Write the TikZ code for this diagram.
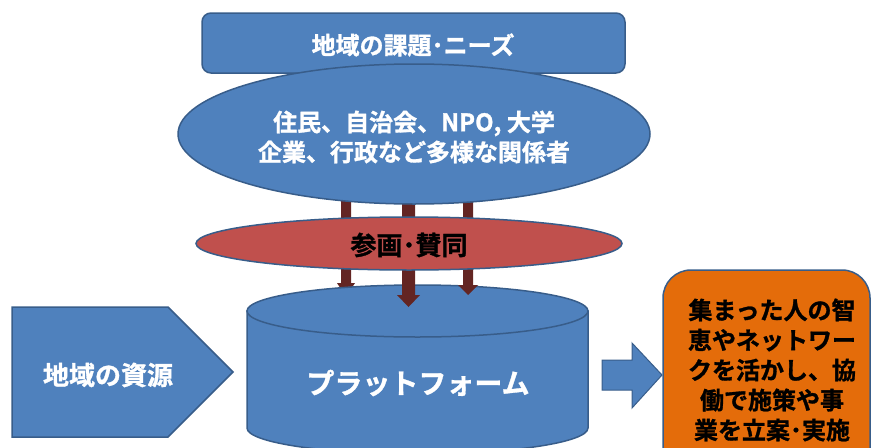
\documentclass[tikz,border=0pt]{standalone}
\usepackage{fontspec}
\setmainfont{Noto Sans CJK JP}[BoldFont={Noto Sans CJK JP Bold},BoldFeatures={FakeBold=1.2}]
\usetikzlibrary{shapes.geometric}
\definecolor{bfill}{HTML}{4F81BD}
\definecolor{bline}{HTML}{385D8A}
\definecolor{rfill}{HTML}{C0504D}
\definecolor{darr}{HTML}{632523}
\definecolor{ofill}{HTML}{E46C0A}
\newcommand\mydownarrow[6]{%
  \fill[darr] (#1-#2,#4) -- (#1+#2,#4) -- (#1+#2,#5) -- (#1+#3,#5) -- (#1,#6)
    -- (#1-#3,#5) -- (#1-#2,#5) -- cycle;}
\begin{document}
\begin{tikzpicture}[x=1pt,y=-1pt,
  blueshape/.style={fill=bfill,draw=bline,line width=1.5pt},
  txt/.style={font=\bfseries\fontsize{#1}{30}\selectfont,align=center,inner sep=0pt},
  wtxt/.style={txt=#1,text=white},
  btxt/.style={txt=#1,text=black}]
\useasboundingbox (0,0) rectangle (872,447);
\clip (0,0) rectangle (872,447);
% top rounded box
\node[blueshape,rounded corners=9pt,minimum width=423pt,minimum height=60pt,inner sep=0pt] (needsbox) at (413.5,43) {};
\node[wtxt=24] (needs) at (413,45) {地域の課題･ニーズ};
% left arrow (behind cylinder)
\mydownarrow{346}{5}{9}{195}{283}{297}
% cylinder
\path[blueshape] (247,311) -- (247,428) arc[start angle=180,end angle=360,x radius=170.5pt,y radius=26pt] -- (588,311) -- cycle;
\path[blueshape] (417.5,311) ellipse[x radius=170.5pt,y radius=26pt];
\coordinate (cyltop) at (417.5,311);
% middle and right arrows
\mydownarrow{408.5}{6.5}{11.5}{195}{295}{307}
\mydownarrow{468}{5}{10}{195}{285}{295}
% big ellipse
\node[blueshape,ellipse,minimum width=472pt,minimum height=140pt,inner sep=0pt] (actorsel) at (414,134) {};
\node[wtxt=24] (actors) at (414,137) {住民、自治会、NPO, 大学\\企業、行政など多様な関係者};
% red ellipse
\node[fill=rfill,draw=bline,line width=1.5pt,ellipse,minimum width=426pt,minimum height=53pt,inner sep=0pt] (joinel) at (409,243.5) {};
\node[btxt=26] (join) at (409,245) {参画･賛同};
% platform text
\node[wtxt=28] (platform) at (418,383) {プラットフォーム};
% left pentagon
\path[blueshape] (12,307) -- (168,307) -- (233,372) -- (168,437) -- (12,437) -- cycle;
\node[wtxt=26] (resource) at (108,375) {地域の資源};
% right block arrow
\path[blueshape,line width=1pt] (602,360) -- (632,360) -- (632,343) -- (662,375) -- (632,408) -- (632,390) -- (602,390) -- cycle;
% orange box
\path[fill=ofill,draw=bline,line width=1.5pt,rounded corners=28pt] (663,270) rectangle (870,480);
\node[btxt=24] (result) at (772,370) {集まった人の智\\恵やネットワー\\クを活かし、協\\働で施策や事\\業を立案･実施};
\end{tikzpicture}
\end{document}
